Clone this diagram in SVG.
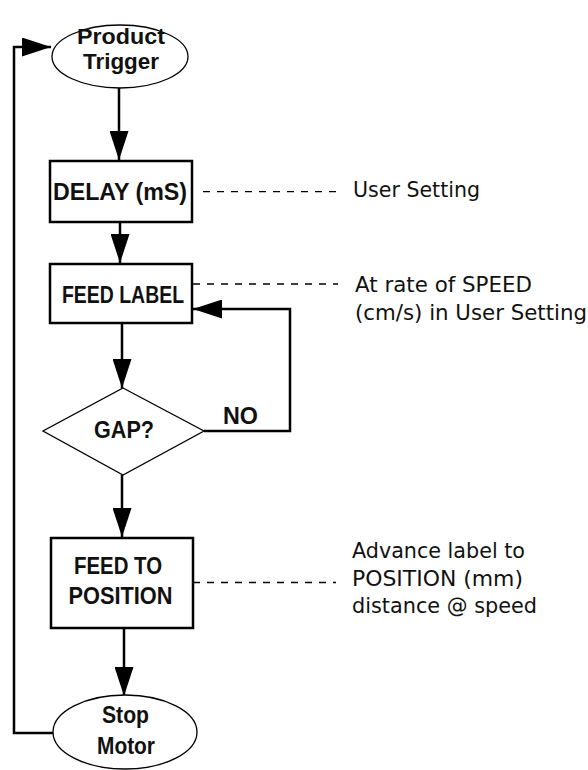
<svg xmlns="http://www.w3.org/2000/svg" width="588" height="770" viewBox="0 0 588 770">
<style>
.box{fill:#fff;stroke:#000;stroke-width:2.5}
.thin{fill:#fff;stroke:#000;stroke-width:1.3}
.conn{fill:none;stroke:#000;stroke-width:2.5}
.dash{fill:none;stroke:#000;stroke-width:1.3;stroke-dasharray:7 7}
.lbl{font-family:"Liberation Sans",Arial,sans-serif;font-weight:bold;font-size:23px;fill:#111;text-anchor:middle}
.sm{font-size:22px}
.note{font-family:"DejaVu Sans",Verdana,sans-serif;font-size:21px;fill:#111}
</style>
<defs>
<marker id="ah" markerUnits="userSpaceOnUse" markerWidth="29" markerHeight="19" refX="29" refY="9.5" orient="auto">
<path d="M0,0 L29,9.5 L0,19 Z" fill="#000"/>
</marker>
</defs>
<rect width="588" height="770" fill="#fff"/>
<g id="connectors">
<path class="conn" d="M119,88 L119,160" marker-end="url(#ah)"/>
<path class="conn" d="M120,222 L120,263" marker-end="url(#ah)"/>
<path class="conn" d="M122,323 L122,388" marker-end="url(#ah)"/>
<path class="conn" d="M122,475 L122,537" marker-end="url(#ah)"/>
<path class="conn" d="M204,431 L290,431 L290,309 L193,309" marker-end="url(#ah)"/>
<path class="conn" d="M124,628 L124,696" marker-end="url(#ah)"/>
<path class="conn" d="M54,733 L14,733 L14,47 L51,47" marker-end="url(#ah)"/>
<path class="dash" d="M203,191.7 L337,191.7"/>
<path class="dash" d="M193,284 L338,284"/>
<path class="dash" d="M193,582.5 L336,582.5"/>
</g>
<g id="product-trigger">
<ellipse class="thin" cx="120" cy="56.5" rx="68" ry="31.5"/>
<text class="lbl sm" x="121" y="44" textLength="88" lengthAdjust="spacingAndGlyphs">Product</text>
<text class="lbl sm" x="121" y="69" textLength="76" lengthAdjust="spacingAndGlyphs">Trigger</text>
</g>
<g id="delay">
<rect class="box" x="50" y="161" width="142" height="61"/>
<text class="lbl" x="120" y="200" textLength="134" lengthAdjust="spacingAndGlyphs">DELAY (mS)</text>
</g>
<g id="feed-label">
<rect class="box" x="50" y="264" width="142" height="59"/>
<text class="lbl" x="123" y="303" textLength="122" lengthAdjust="spacingAndGlyphs">FEED LABEL</text>
</g>
<g id="gap">
<polygon class="thin" points="123,388 204,431 123,475 43,431"/>
<text class="lbl" x="124" y="438" textLength="60" lengthAdjust="spacingAndGlyphs">GAP?</text>
</g>
<g id="no-label">
<text class="lbl" x="240.5" y="424" textLength="35" lengthAdjust="spacingAndGlyphs">NO</text>
</g>
<g id="feed-to-position">
<rect class="box" x="51" y="538" width="142" height="90"/>
<text class="lbl" x="118" y="574" textLength="88" lengthAdjust="spacingAndGlyphs">FEED TO</text>
<text class="lbl" x="120.5" y="604" textLength="104" lengthAdjust="spacingAndGlyphs">POSITION</text>
</g>
<g id="stop-motor">
<ellipse class="thin" cx="125" cy="732" rx="72" ry="37"/>
<text class="lbl" x="125.5" y="723" textLength="47" lengthAdjust="spacingAndGlyphs">Stop</text>
<text class="lbl" x="126" y="754" textLength="58" lengthAdjust="spacingAndGlyphs">Motor</text>
</g>
<g id="notes">
<text class="note" x="353" y="196.7" textLength="127" lengthAdjust="spacingAndGlyphs">User Setting</text>
<text class="note" x="355" y="291.7" textLength="177" lengthAdjust="spacingAndGlyphs">At rate of SPEED</text>
<text class="note" x="355" y="320" textLength="232" lengthAdjust="spacingAndGlyphs">(cm/s) in User Setting</text>
<text class="note" x="352" y="558.3" textLength="173" lengthAdjust="spacingAndGlyphs">Advance label to</text>
<text class="note" x="352" y="585.7" textLength="171" lengthAdjust="spacingAndGlyphs">POSITION (mm)</text>
<text class="note" x="352" y="612.7" textLength="185" lengthAdjust="spacingAndGlyphs">distance @ speed</text>
</g>
</svg>
